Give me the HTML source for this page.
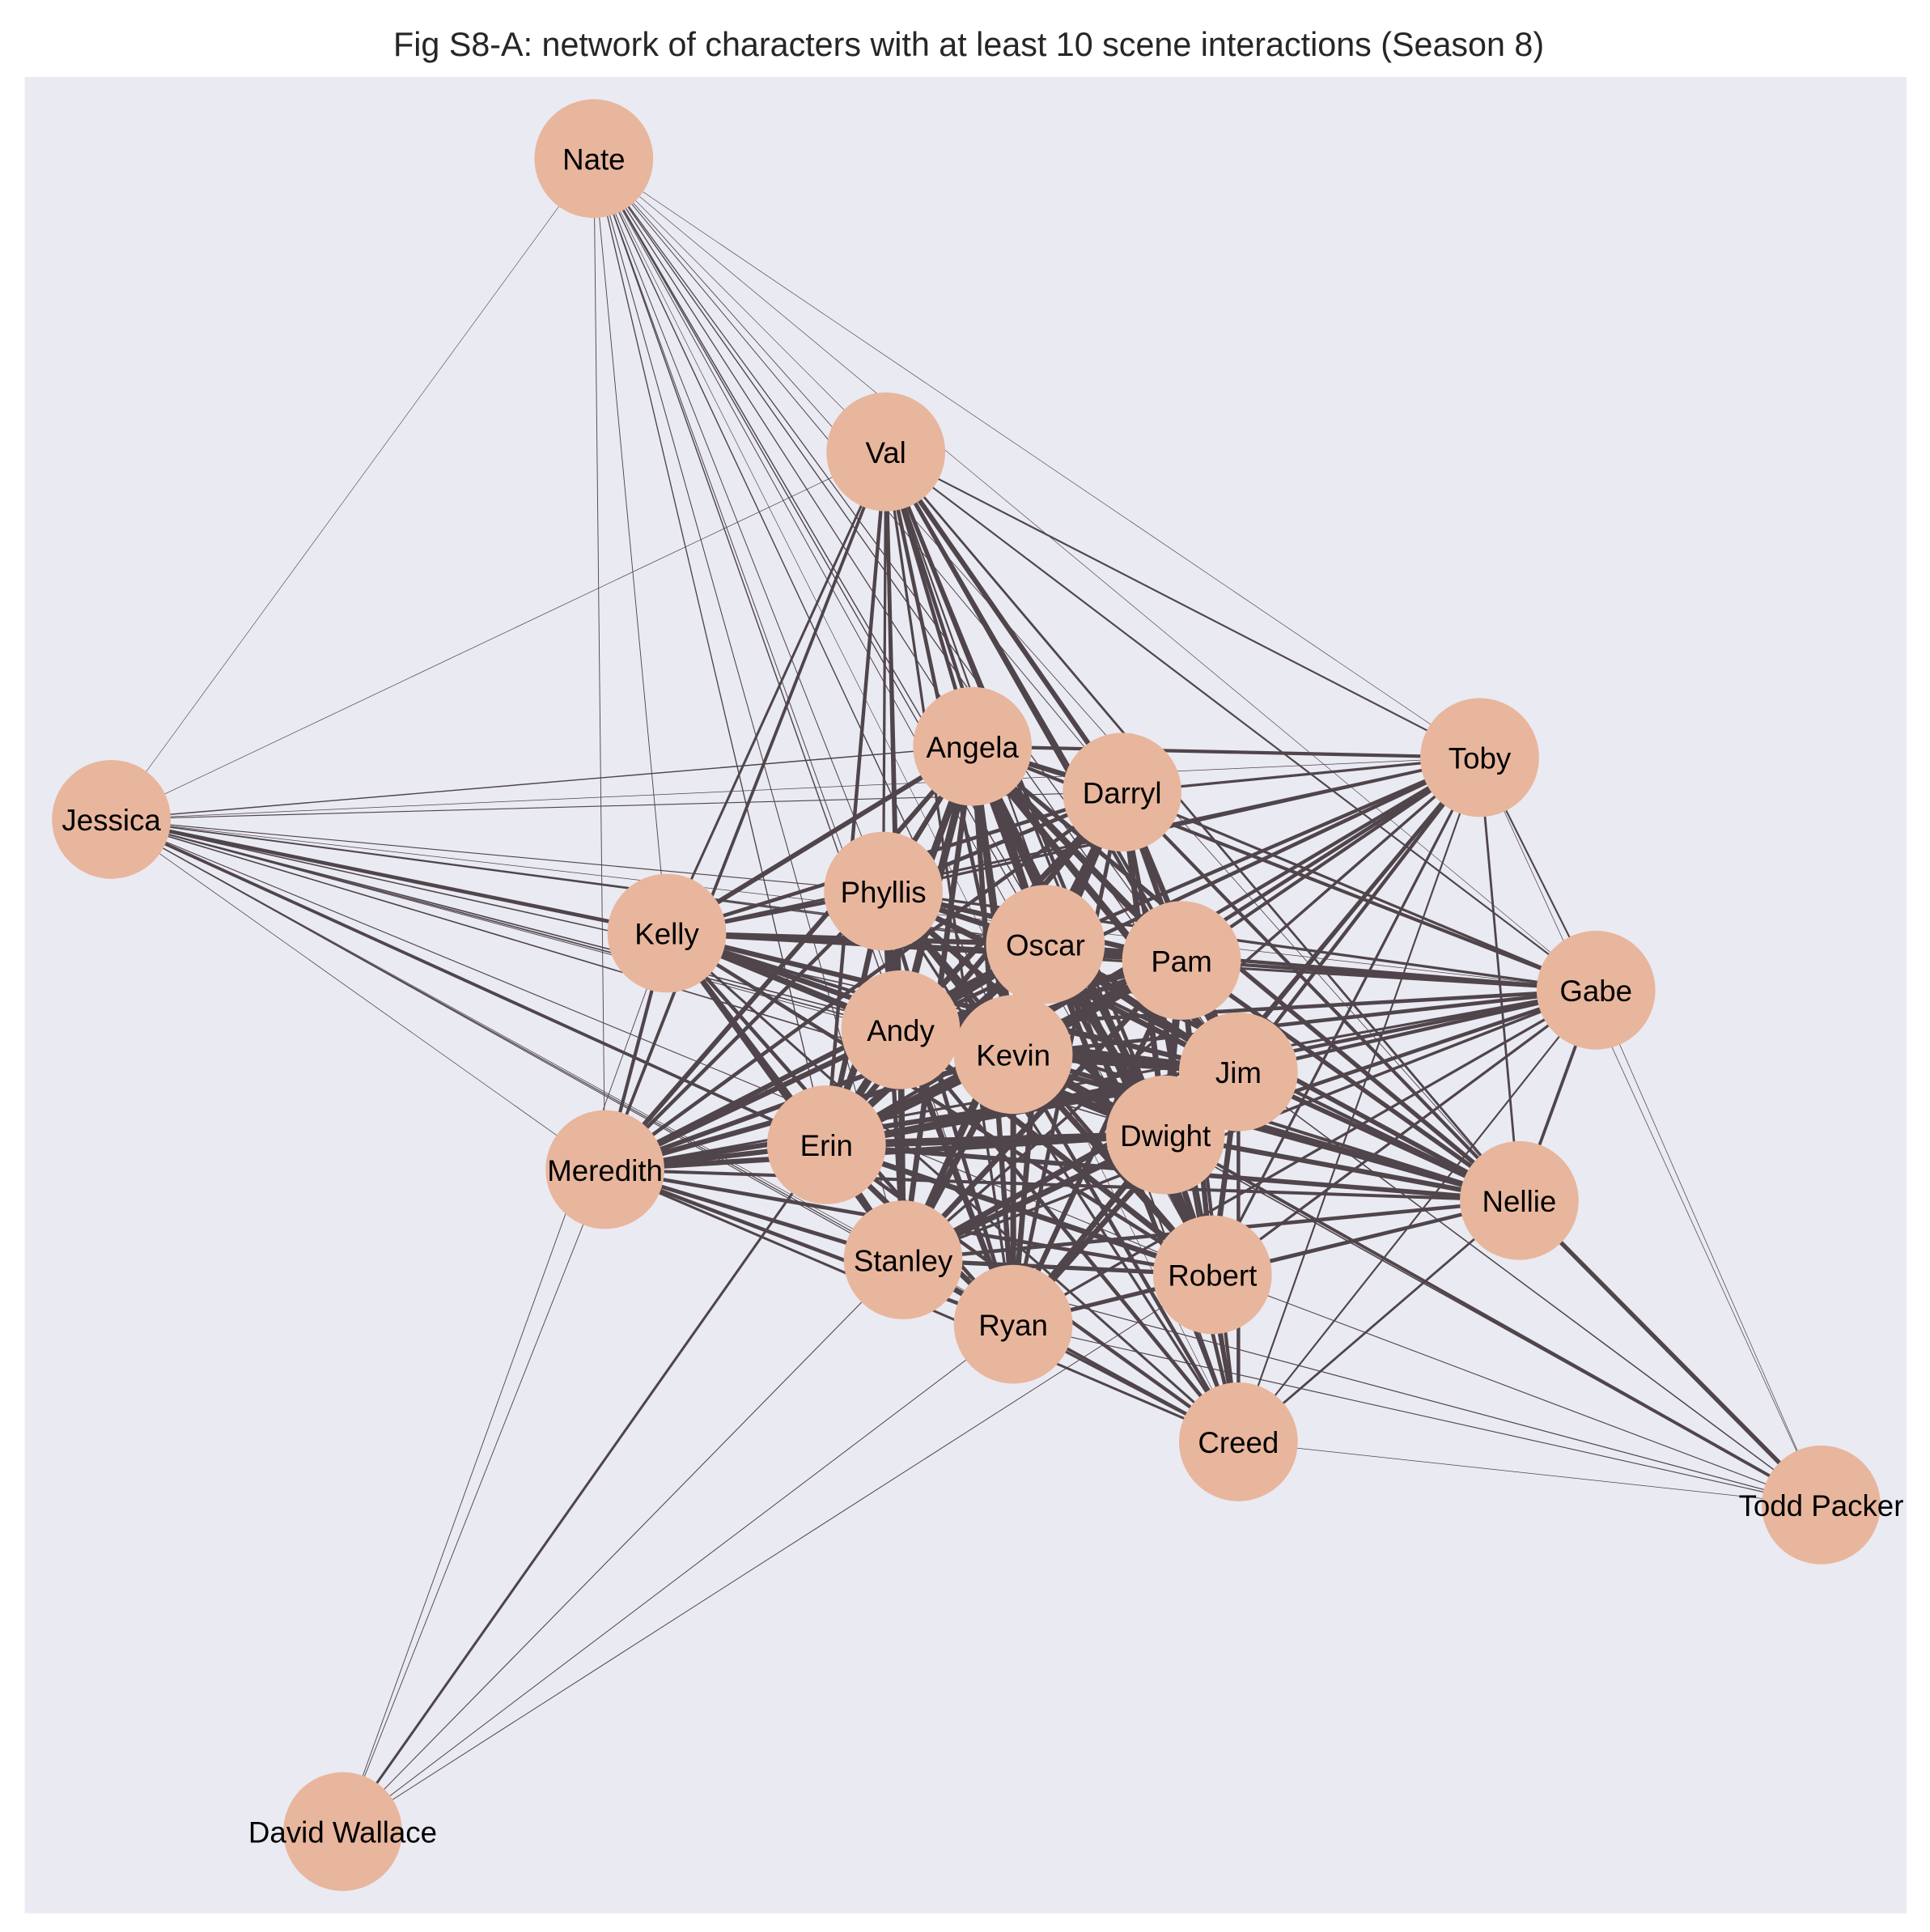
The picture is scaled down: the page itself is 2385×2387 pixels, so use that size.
<!DOCTYPE html>
<html><head><meta charset="utf-8"><style>
html,body{margin:0;padding:0;background:#fff;}
svg{display:block;}
text{font-family:"Liberation Sans","DejaVu Sans",sans-serif;}
</style></head><body>
<svg id="s" width="2385" height="2387" viewBox="0 0 1560 1561" xmlns="http://www.w3.org/2000/svg">
<defs><clipPath id="c"><rect x="20" y="62" width="1521" height="1484"/></clipPath></defs>
<rect x="0" y="0" width="1560" height="1561" fill="#fff"/>
<text x="783" y="45" font-size="27" text-anchor="middle" fill="#262626">Fig S8-A: network of characters with at least 10 scene interactions (Season 8)</text>
<rect x="20" y="62" width="1521" height="1484" fill="#eaeaf2"/>
<g clip-path="url(#c)">
<g id="edges" stroke="#4f454a" stroke-linecap="round"></g>
<g id="nodes" fill="#e8b69d"></g>
<g font-size="24" text-anchor="middle" fill="#000">
<text x="480" y="137">Nate</text>
<text x="716" y="374">Val</text>
<text x="786" y="612">Angela</text>
<text x="907" y="649">Darryl</text>
<text x="1196" y="621">Toby</text>
<text x="90" y="671">Jessica</text>
<text x="714" y="729">Phyllis</text>
<text x="539" y="763">Kelly</text>
<text x="845" y="772">Oscar</text>
<text x="955" y="785">Pam</text>
<text x="1290" y="809">Gabe</text>
<text x="728" y="841">Andy</text>
<text x="819" y="861">Kevin</text>
<text x="1001" y="875">Jim</text>
<text x="942" y="926">Dwight</text>
<text x="668" y="934">Erin</text>
<text x="489" y="954">Meredith</text>
<text x="1228" y="979">Nellie</text>
<text x="730" y="1027">Stanley</text>
<text x="980" y="1039">Robert</text>
<text x="819" y="1079">Ryan</text>
<text x="1001" y="1174">Creed</text>
<text x="1472" y="1225">Todd Packer</text>
<text x="277" y="1489">David Wallace</text>
</g>
</g>
</svg>
<script>
var N={Nate:[480,128,.45],Val:[716,365,1.2],Angela:[786,603,2.1],Darryl:[907,640,1.7],Toby:[1196,612,1.2],Jessica:[90,662,.5],Phyllis:[714,720,1.7],Kelly:[539,754,1.6],Oscar:[845,763,2.2],Pam:[955,776,2.1],Gabe:[1290,800,1.2],Andy:[728,832,2.3],Kevin:[819,852,2.3],Jim:[1001,866,2.2],Dwight:[942,917,2.3],Erin:[668,925,2.2],Meredith:[489,945,1.6],Nellie:[1228,970,1.5],Stanley:[730,1018,1.8],Robert:[980,1030,1.7],Ryan:[819,1070,1.7],Creed:[1001,1165,1.2],Todd:[1472,1216,.5],David:[277,1480,.45]};
var allowDavid={Meredith:1,Erin:1,Stanley:1,Ryan:1,Robert:1,Kelly:1};
var allowTodd={Nellie:1,Dwight:1,Jim:1,Robert:1,Ryan:1,Creed:1,Gabe:1,Stanley:1,Kevin:1,Toby:1};
var special={"Jessica-Kelly":3,"Jessica-Erin":2.5,"Nellie-Todd":3.5,"Dwight-Todd":2.5,"Erin-David":2,"Val-Darryl":4,"Val-Angela":3,"Val-Meredith":2.5,"Gabe-Nellie":2.5,"Nate-Jessica":.4,"Jessica-Meredith":.5};
var k=Object.keys(N),E=document.getElementById('edges'),G=document.getElementById('nodes'),ns='http://www.w3.org/2000/svg';
for(var i=0;i<k.length;i++)for(var j=i+1;j<k.length;j++){var a=k[i],b=k[j],key=a+'-'+b;
if(a=='David'||b=='David'){var o=a=='David'?b:a;if(!allowDavid[o])continue;}
if(a=='Todd'||b=='Todd'){var o2=a=='Todd'?b:a;if(!allowTodd[o2])continue;}
var w=special[key]!==undefined?special[key]:Math.min(8,Math.pow(N[a][2]*N[b][2],1.2)*0.9);
var l=document.createElementNS(ns,'line');l.setAttribute('x1',N[a][0]);l.setAttribute('y1',N[a][1]);l.setAttribute('x2',N[b][0]);l.setAttribute('y2',N[b][1]);l.setAttribute('stroke-width',w);E.appendChild(l);}
k.forEach(function(n){var c=document.createElementNS(ns,'circle');c.setAttribute('cx',N[n][0]);c.setAttribute('cy',N[n][1]);c.setAttribute('r',48);G.appendChild(c);});
</script>
</body></html>
